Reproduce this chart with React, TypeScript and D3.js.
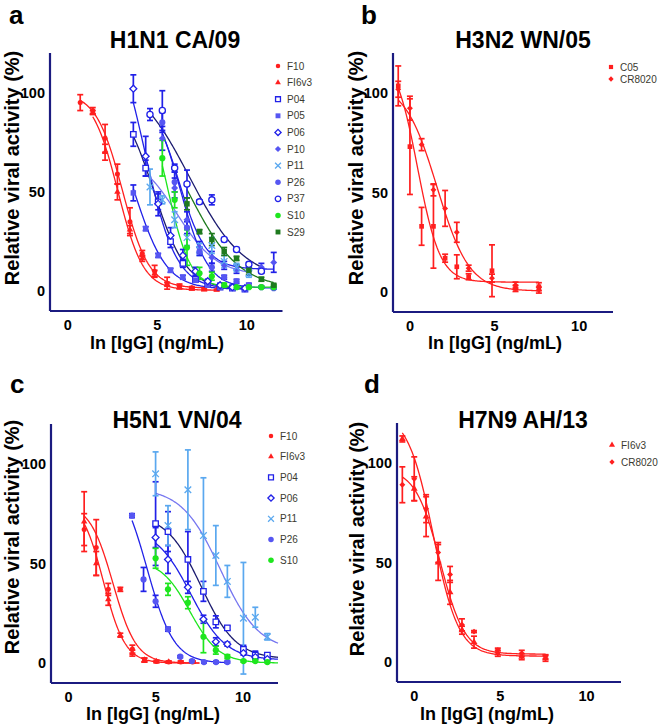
import React from "react";
import * as d3 from "d3";

// x = ln [IgG] (ng/mL), each point: [x, mean %, sem]

// ---- a: H1N1 CA/09
const aF10 = [[0.69, 95, 4], [1.39, 91, 1.5], [2.08, 77, 7], [2.77, 59, 5], [3.47, 35, 7], [4.16, 19, 1.5], [4.85, 10, 3], [5.55, 4, 3], [6.24, 2.4, 1.2], [6.93, 1.7, 0.6]];
const aFI6 = [[1.39, 90, 1], [2.08, 70, 4], [2.77, 50, 4], [3.47, 31, 2], [4.16, 16.5, 1.5], [4.85, 9, 1.5], [5.55, 3.5, 1], [6.24, 2, 0.8], [6.93, 1.2, 0.5], [7.62, 0.8, 0.4], [8.32, 0.6, 0.3]];
const aP04 = [[3.66, 79, 6], [4.35, 62, 4], [5.05, 45, 4], [5.74, 25, 3], [6.43, 14, 2], [7.13, 6, 1], [7.82, 3.5, 1], [8.51, 2, 0.5], [9.2, 1.5, 0.5], [9.9, 1, 0.5]];
const aP05 = [[3.66, 49.5, 4], [4.35, 31.5, 1], [5.05, 18, 1], [5.74, 10.5, 1], [6.43, 7, 1], [7.13, 5.5, 1], [7.82, 3, 0.5], [8.51, 2, 0.5], [9.2, 1.5, 0.5], [9.9, 1, 0.5]];
const aP06 = [[3.66, 102, 7], [4.35, 68, 10], [5.05, 44, 6], [5.74, 28, 4], [6.43, 18, 3], [7.13, 10, 2], [7.82, 5, 1], [8.51, 3, 1], [9.2, 2, 1], [9.9, 1.5, 0.5]];
const aP10 = [[5.28, 77, 6], [5.97, 52, 5], [6.66, 36, 4], [7.36, 22, 3], [8.05, 17, 3], [8.74, 13, 2], [9.43, 11, 2], [10.12, 10, 2], [10.82, 12, 2], [11.51, 14.5, 5]];
const aP11 = [[4.59, 52.5, 9], [5.28, 46, 2], [5.97, 36, 4], [6.66, 27, 4], [7.36, 21, 3], [8.05, 23, 4], [8.74, 15, 3], [9.43, 12, 2], [10.12, 9, 2]];
const aP26 = [[5.28, 85, 5], [5.97, 55, 5], [6.66, 32, 3], [7.36, 20, 2], [8.05, 12, 2], [8.74, 7, 1], [9.43, 5, 1], [10.12, 3, 1], [10.82, 2, 0.5], [11.51, 1.5, 0.5]];
const aP37 = [[4.59, 89, 3], [5.28, 91, 10], [5.97, 62, 2], [6.66, 54, 7], [7.36, 45, 1], [8.05, 46, 2.5], [8.74, 26, 1], [9.43, 21, 1], [10.12, 13.5, 1], [10.82, 10, 1]];
const aS10 = [[5.28, 67, 9], [5.97, 46, 4], [6.66, 22, 9], [7.36, 9, 3], [8.05, 7.5, 2], [8.74, 3, 1], [9.43, 2, 0.5], [10.12, 2, 0.5], [10.82, 2, 0.5], [11.51, 2, 0.5]];
const aS29 = [[6.66, 44, 3], [7.36, 30, 1], [8.05, 26, 3], [8.74, 20, 2], [9.43, 16.5, 1], [10.12, 10.5, 2], [10.82, 6, 1], [11.51, 3, 0.5]];

// ---- b: H3N2 WN/05
const bC05 = [[-0.69, 103.5, 10], [0, 73, 24], [0.69, 33, 9.5], [1.39, 33, 21], [2.08, 17, 2], [2.77, 12.7, 6], [3.47, 7.7, 1.5], [4.85, 10.7, 13], [6.24, 1.8, 1.5], [7.62, 2.7, 2]];
const bCR = [[-0.69, 101.8, 4], [0, 92.3, 6], [0.69, 74, 3], [1.39, 51.3, 3], [2.08, 42, 9], [2.77, 30, 5], [3.47, 12, 1.5], [4.85, 7, 2], [6.24, 3.5, 1.5], [7.62, 1, 1.5]];

// ---- c: H5N1 VN/04
const cF10 = [[0.9, 67, 8], [1.59, 58, 14], [2.28, 37, 3], [2.97, 37, 1], [3.66, 7, 2], [4.35, 1.5, 1], [5.04, 0.8, 0.5], [5.74, 0.5, 0.5], [6.43, 0.5, 0.5], [7.12, 0.5, 0.5]];
const cFI6 = [[0.9, 71, 15], [1.59, 50, 6], [2.28, 32, 3], [2.97, 14, 1], [3.66, 5, 1.5], [4.35, 1.5, 1], [5.04, 0.8, 0.5], [5.74, 0.5, 0.5], [6.43, 0.5, 0.5], [7.12, 0.5, 0.5]];
const cP04 = [[4.99, 70, 21], [5.7, 66, 10], [6.84, 52, 14], [7.73, 36, 5], [8.44, 20.7, 3], [9.1, 17.7, 1], [10.02, 6.9, 2], [10.7, 4, 2], [11.39, 4, 1]];
const cP06 = [[4.99, 63, 5], [5.7, 52, 7], [6.84, 38, 3], [7.73, 22, 2], [8.44, 10.7, 2], [9.1, 9.5, 1], [10.02, 5, 1], [10.7, 3, 1], [11.39, 2, 0.5]];
const cP11 = [[4.99, 95, 11], [5.7, 69, 10], [6.84, 87, 20], [7.73, 64, 29], [8.44, 54, 15], [9.1, 41, 8], [10.02, 22.5, 28], [10.7, 23, 5], [11.39, 13.2, 1.6]];
const cP26 = [[3.64, 74, 1], [4.3, 42, 6], [4.99, 31, 3], [5.7, 17, 1], [6.4, 3.2, 0.5], [7.07, 1, 0.5], [7.76, 0.5, 0.5], [8.45, 0.5, 0.5], [9.1, 0.5, 0.5]];
const cS10 = [[4.99, 52.6, 5], [5.7, 37, 3], [6.84, 30.3, 3], [7.73, 13.2, 8], [8.44, 6.5, 2], [9.1, 3.2, 1], [10.02, 1, 0.5], [10.7, 1, 0.5], [11.39, 0.5, 0.3]];

// ---- d: H7N9 AH/13
const dFI6 = [[-0.69, 112, 1.5], [0, 87, 6], [0.69, 73, 10], [1.39, 50, 9], [2.08, 35, 6], [2.77, 16, 2], [3.47, 10, 3], [4.85, 4.4, 1.5], [6.24, 2.7, 1.5], [7.62, 1.9, 1.5]];
const dCR = [[-0.69, 89, 9], [0, 92, 11], [0.69, 77, 7], [1.39, 55, 5], [2.08, 44, 4], [2.77, 18.7, 3], [3.47, 15.3, 0.5], [4.85, 6, 1], [6.24, 4.4, 1.5], [7.62, 2.7, 1]];

// 4PL fits: [top, bottom, ln IC50, slope]
const fitsA = { F10: [100, 1.5, 3.05, 1.35], FI6v3: [100, 0.5, 2.8, 1.4], P04: [100, 1, 4.8, 1.1], P05: [100, 1, 3.7, 1.1], P06: [140, 1, 4.3, 1.15], P10: [100, 11, 6.2, 1.3], P11: [70, 8, 6.1, 0.9], P26: [100, 1.5, 6.3, 1.3], P37: [110, 5, 6.8, 0.65], S10: [100, 2, 5.6, 1.6], S29: [100, 1, 6.7, 0.7] };
const fitsB = { C05: [120, 5, 0.45, 1.5], CR8020: [105, 0.5, 1.6, 1.05] };
const fitsC = { F10: [80, 0, 2.55, 1.5], FI6v3: [82, 0, 2.0, 1.6], P04: [75, 2, 7.6, 1.0], P06: [68, 1.5, 7.0, 1.0], P11: [88, 6, 8.7, 0.9], P26: [95, 0, 4.5, 1.3], S10: [52, 0, 6.95, 1.2] };
const fitsD = { FI6v3: [125, 3, 1.1, 1.35], CR8020: [97, 4, 1.5, 1.4] };

const xTicks = [0, 5, 10];
const yTicks = [0, 50, 100];

const RED = "#ff1f1f";
const NAVY = "#1c1c70";
const BLUE = "#2121e8";
const MID = "#5656f2";
const LIGHT = "#5aa8ef";
const PERI = "#7777f0";
const GREEN = "#1ee61e";
const DGREEN = "#1e7a1e";
const AXIS = "#1b1b80";
const FONT = "'Liberation Sans', Arial, sans-serif";

type Series = {
  name: string;
  pts: number[][];
  fit: number[];
  shape: string;
  color: string;
  open?: boolean;
  curve: string;
  bar?: string;
  size?: number;
  to?: number;
};

type PanelDef = {
  letter: string;
  title: string;
  left: number;
  right: number;
  top: number;
  bottom: number;
  titleX: number;
  titleY: number;
  letterX: number;
  letterY: number;
  yLabX: number;
  yLabY: number;
  xLabX: number;
  xLabY: number;
  legX: number;
  legY: number;
  legStep: number;
  series: Series[];
};

const panels: PanelDef[] = [
  {
    letter: "a", title: "H1N1 CA/09", left: 50, right: 282.5, top: 53, bottom: 311,
    titleX: 175, titleY: 48, letterX: 9, letterY: 24, yLabX: 19, yLabY: 168, xLabX: 157, xLabY: 349,
    legX: 278, legY: 66, legStep: 16.6,
    series: [
      { name: "F10", pts: aF10, fit: fitsA.F10, shape: "circle", color: RED, curve: RED, size: 20, to: 7.62 },
      { name: "FI6v3", pts: aFI6, fit: fitsA.FI6v3, shape: "triangle", color: RED, curve: RED, size: 18 },
      { name: "P04", pts: aP04, fit: fitsA.P04, shape: "square", color: BLUE, open: true, curve: NAVY },
      { name: "P05", pts: aP05, fit: fitsA.P05, shape: "square", color: MID, curve: BLUE, bar: BLUE },
      { name: "P06", pts: aP06, fit: fitsA.P06, shape: "diamond", color: BLUE, open: true, curve: BLUE },
      { name: "P10", pts: aP10, fit: fitsA.P10, shape: "diamond", color: MID, curve: BLUE, bar: BLUE },
      { name: "P11", pts: aP11, fit: fitsA.P11, shape: "times", color: LIGHT, curve: PERI },
      { name: "P26", pts: aP26, fit: fitsA.P26, shape: "circle", color: MID, curve: BLUE, bar: BLUE },
      { name: "P37", pts: aP37, fit: fitsA.P37, shape: "circle", color: BLUE, open: true, curve: NAVY },
      { name: "S10", pts: aS10, fit: fitsA.S10, shape: "circle", color: GREEN, curve: GREEN },
      { name: "S29", pts: aS29, fit: fitsA.S29, shape: "square", color: DGREEN, curve: DGREEN },
    ],
  },
  {
    letter: "b", title: "H3N2 WN/05", left: 393, right: 613, top: 53, bottom: 312,
    titleX: 523, titleY: 48, letterX: 361, letterY: 24, yLabX: 363, yLabY: 168, xLabX: 495, xLabY: 349,
    legX: 611, legY: 67, legStep: 12,
    series: [
      { name: "C05", pts: bC05, fit: fitsB.C05, shape: "square", color: RED, curve: RED, size: 22 },
      { name: "CR8020", pts: bCR, fit: fitsB.CR8020, shape: "diamond", color: RED, curve: RED, size: 22 },
    ],
  },
  {
    letter: "c", title: "H5N1 VN/04", left: 51, right: 278, top: 424, bottom: 683,
    titleX: 177, titleY: 428, letterX: 10, letterY: 393, yLabX: 19, yLabY: 537, xLabX: 153, xLabY: 720,
    legX: 271, legY: 436, legStep: 20.7,
    series: [
      { name: "F10", pts: cF10, fit: fitsC.F10, shape: "circle", color: RED, curve: RED, size: 20, to: 7.5 },
      { name: "FI6v3", pts: cFI6, fit: fitsC.FI6v3, shape: "triangle", color: RED, curve: RED, size: 18, to: 7.5 },
      { name: "P04", pts: cP04, fit: fitsC.P04, shape: "square", color: BLUE, open: true, curve: NAVY, to: 12 },
      { name: "P06", pts: cP06, fit: fitsC.P06, shape: "diamond", color: BLUE, open: true, curve: BLUE, to: 12 },
      { name: "P11", pts: cP11, fit: fitsC.P11, shape: "times", color: LIGHT, curve: PERI, to: 12 },
      { name: "P26", pts: cP26, fit: fitsC.P26, shape: "circle", color: MID, curve: BLUE, bar: BLUE },
      { name: "S10", pts: cS10, fit: fitsC.S10, shape: "circle", color: GREEN, curve: GREEN, to: 12 },
    ],
  },
  {
    letter: "d", title: "H7N9 AH/13", left: 397, right: 621, top: 423, bottom: 682,
    titleX: 523, titleY: 428, letterX: 364, letterY: 393, yLabX: 364, yLabY: 539, xLabX: 487, xLabY: 720,
    legX: 612, legY: 445, legStep: 17,
    series: [
      { name: "FI6v3", pts: dFI6, fit: fitsD.FI6v3, shape: "triangle", color: RED, curve: RED, size: 20 },
      { name: "CR8020", pts: dCR, fit: fitsD.CR8020, shape: "diamond", color: RED, curve: RED, size: 22 },
    ],
  },
];

// diamonds are drawn as squares turned 45 degrees
const symbolTypes: { [k: string]: d3.SymbolType } = {
  circle: d3.symbolCircle,
  triangle: d3.symbolTriangle,
  square: d3.symbolSquare,
  diamond: d3.symbolSquare,
  times: (d3 as any).symbolTimes ?? d3.symbolCross,
};

const symbolPath = (shape: string, size: number) =>
  d3.symbol().type(symbolTypes[shape]).size(size)() as string;

const logistic = (f: number[], x: number) =>
  f[1] + (f[0] - f[1]) / (1 + Math.exp(f[3] * (x - f[2])));

function Marker({ s, x, y, size }: { s: Series; x: number; y: number; size: number }) {
  const stroked = s.open || s.shape === "times";
  const rot = s.shape === "diamond" ? " rotate(45)" : "";
  return (
    <path
      d={symbolPath(s.shape, s.shape === "diamond" ? size * 0.8 : size)}
      transform={`translate(${x},${y})${rot}`}
      fill={stroked ? (s.shape === "times" ? "none" : "white") : s.color}
      stroke={stroked ? s.color : "none"}
      strokeWidth={stroked ? 1.3 : 0}
    />
  );
}

function Panel({ p }: { p: PanelDef }) {
  const x = d3.scaleLinear().domain([-1, 12]).range([p.left, p.right]);
  const y = d3.scaleLinear().domain([-10, 120]).range([p.bottom, p.top]);
  const line = d3
    .line<number[]>()
    .x((d) => x(d[0]))
    .y((d) => y(d[1]));

  return (
    <g fontFamily={FONT}>
      <text x={p.letterX} y={p.letterY} fontSize={26} fontWeight="bold" fill="#000">
        {p.letter}
      </text>
      <text x={p.titleX} y={p.titleY} fontSize={23} fontWeight="bold" textAnchor="middle" fill="#000">
        {p.title}
      </text>

      {/* fitted curves */}
      {p.series.map((s) => {
        const x0 = s.pts[0][0];
        const x1 = s.to ?? s.pts[s.pts.length - 1][0];
        const xs = d3.range(0, 121).map((i) => x0 + ((x1 - x0) * i) / 120);
        const pts = xs.map((v) => [v, logistic(s.fit, v)]);
        return (
          <path key={"c" + s.name} d={line(pts) ?? ""} fill="none" stroke={s.curve} strokeWidth={1.3} />
        );
      })}

      {/* error bars */}
      {p.series.map((s) =>
        s.pts.map((d, i) => {
          const cx = x(d[0]);
          const yt = y(d[1] + d[2]);
          const yb = y(d[1] - d[2]);
          const col = s.bar ?? s.color;
          return (
            <g key={"e" + s.name + i} stroke={col} strokeWidth={1.7}>
              <line x1={cx} x2={cx} y1={yt} y2={yb} />
              <line x1={cx - 3} x2={cx + 3} y1={yt} y2={yt} />
              <line x1={cx - 3} x2={cx + 3} y1={yb} y2={yb} />
            </g>
          );
        })
      )}

      {/* markers */}
      {p.series.map((s) =>
        s.pts.map((d, i) => (
          <Marker key={"m" + s.name + i} s={s} x={x(d[0])} y={y(d[1])} size={s.size ?? 30} />
        ))
      )}

      {/* axes */}
      <line x1={p.left} x2={p.left} y1={p.top} y2={p.bottom} stroke={AXIS} strokeWidth={2.2} />
      <line x1={p.left} x2={p.right} y1={p.bottom} y2={p.bottom} stroke={AXIS} strokeWidth={2.2} />
      {yTicks.map((t) => (
        <text key={"y" + t} x={p.left - 5} y={y(t)} dy="0.36em" fontSize={14.5} fontWeight="bold" textAnchor="end" fill="#000">
          {t}
        </text>
      ))}
      {xTicks.map((t) => (
        <text key={"x" + t} x={x(t)} y={p.bottom + 19} fontSize={14.5} fontWeight="bold" textAnchor="middle" fill="#000">
          {t}
        </text>
      ))}
      <text
        transform={`translate(${p.yLabX},${p.yLabY}) rotate(-90)`}
        fontSize={20}
        fontWeight="bold"
        textAnchor="middle"
        fill="#000"
      >
        Relative viral activity (%)
      </text>
      <text x={p.xLabX} y={p.xLabY} fontSize={18} fontWeight="bold" textAnchor="middle" fill="#000">
        ln [IgG] (ng/mL)
      </text>

      {/* legend */}
      {p.series.map((s, i) => {
        const ly = p.legY + i * p.legStep;
        return (
          <g key={"l" + s.name}>
            <Marker s={s} x={p.legX} y={ly} size={(s.size ?? 30) * 0.8} />
            <text x={p.legX + 9} y={ly} dy="0.35em" fontSize={10} fill="#3a3a30">
              {s.name}
            </text>
          </g>
        );
      })}
    </g>
  );
}

export default function App() {
  return (
    <svg
      width={660}
      height={728}
      viewBox="0 0 660 728"
      style={{ position: "absolute", left: 0, top: 0, background: "#fff" }}
    >
      <rect width={660} height={728} fill="#fff" />
      {panels.map((p) => (
        <Panel key={p.letter} p={p} />
      ))}
    </svg>
  );
}
